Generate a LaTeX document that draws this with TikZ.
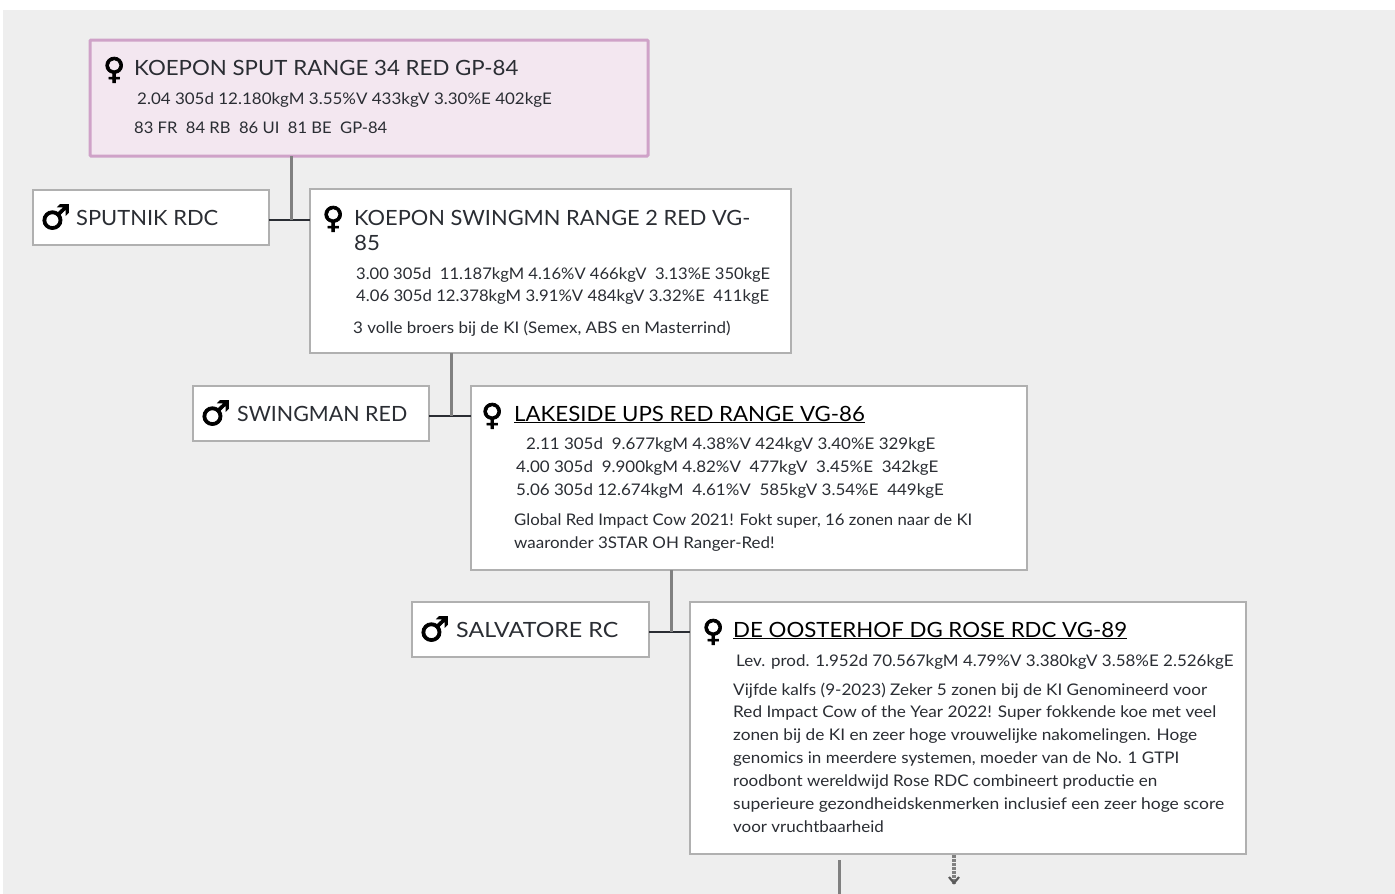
\documentclass[tikz,border=0pt]{standalone}
\usepackage{graphicx}
\usepackage{fontspec}
\setmainfont{Lato}[FakeStretch=1.06]
\newfontfamily\femsym{DejaVu Sans}[FakeBold=2.5]
\newfontfamily\malsym{DejaVu Sans}[FakeBold=2.5]
\definecolor{pagebg}{HTML}{EEEEEE}
\definecolor{boxline}{HTML}{B0B0B0}
\definecolor{pinkfill}{HTML}{F3E7F0}
\definecolor{pinkline}{HTML}{CFA2C8}
\definecolor{ink}{HTML}{2A2D33}
\definecolor{stem}{HTML}{808080}
\tikzset{
 x=1pt,y=-1pt,
 cardbox/.style={draw=boxline,line width=1.6pt,fill=white,anchor=north west,inner sep=0pt,outer sep=0pt},
 topbox/.style={cardbox,draw=pinkline,line width=3pt,rounded corners=1pt,fill=pinkfill},
 title/.style={anchor=base west,inner sep=0pt,text=ink,font=\fontsize{21}{24}\selectfont},
 linktitle/.style={title,text=black},
 small/.style={anchor=base west,inner sep=0pt,text=ink,font=\fontsize{16}{18}\selectfont},
 femsign/.style={anchor=base west,inner sep=0pt,text=black,font=\femsym\fontsize{30}{30}\selectfont},
 malsign/.style={anchor=base west,inner sep=0pt,text=black,font=\malsym\fontsize{34}{36}\selectfont},
 stemline/.style={draw=stem,line width=3pt},
 barline/.style={draw=ink,line width=1.6pt},
}
\newcommand{\lnk}[1]{\underline{#1}}
\newcommand{\fitw}[2]{\resizebox{#1pt}{\height}{#2}}
\begin{document}
\begin{tikzpicture}
\useasboundingbox (0,0) rectangle (1395,894);
\fill[white] (0,0) rectangle (1395,894);
\fill[pagebg] (3,10) rectangle (1395,894);
% boxes
\node[topbox,minimum width=558pt,minimum height=116pt] (b1) at (90,40) {};
\node[cardbox,minimum width=236pt,minimum height=55pt] (s2) at (33,190) {};
\node[cardbox,minimum width=481pt,minimum height=164pt] (b2) at (310,189) {};
\node[cardbox,minimum width=236pt,minimum height=55pt] (s3) at (193,386) {};
\node[cardbox,minimum width=556pt,minimum height=184pt] (b3) at (471,386) {};
\node[cardbox,minimum width=237pt,minimum height=55pt] (s4) at (412,602) {};
\node[cardbox,minimum width=556pt,minimum height=252pt] (b4) at (690,602) {};
% connectors
\coordinate (j2) at (291,220);
\coordinate (j3) at (451,416);
\coordinate (j4) at (671,632);
\coordinate (t5) at (839,860);
\coordinate (e5) at (839,894);
\coordinate (t6) at (954,855);
\coordinate (e6) at (954,884);
\draw[barline] (s2.east |- j2) -- (b2.west |- j2);
\draw[stemline] (b1.south -| j2) -- (j2);
\draw[barline] (s3.east |- j3) -- (b3.west |- j3);
\draw[stemline] (b2.south -| j3) -- (j3);
\draw[barline] (s4.east |- j4) -- (b4.west |- j4);
\draw[stemline] (b3.south -| j4) -- (j4);
\draw[stemline] (t5) -- (e5);
\draw[draw=stem,line width=3.4pt,dash pattern=on 2.5pt off 1.5pt] (t6) -- (e6);
\draw[draw=stem!70!black,line width=2.2pt] (949,877) -- (954,883) -- (959,877);
% box 1
\node[femsign] (g1) at (103,79) {♀};
\node[title] (t1) at (134,75) {KOEPON SPUT RANGE 34 RED GP-84};
\node[small] (t1a) at (137,104) {2.04 305d 12.180kgM 3.55\%V 433kgV 3.30\%E 402kgE};
\node[small] (t1b) at (134,133) {\fitw{253}{83 FR\ \ 84 RB\ \ 86 UI\ \ 81 BE\ \ GP-84}};
% sire 2
\node[malsign] (g2) at (40,229) {♂};
\node[title] (t2) at (76,225) {\fitw{142}{SPUTNIK RDC}};
% box 2
\node[femsign] (g3) at (322,228) {♀};
\node[title] (t3) at (354,225) {\fitw{396}{KOEPON SWINGMN RANGE 2 RED VG-}};
\node[title] (t3b) at (354,250) {85};
\node[small] (t3c) at (356,279) {\fitw{414}{3.00 305d\ \ 11.187kgM 4.16\%V 466kgV\ \ 3.13\%E\ 350kgE}};
\node[small] (t3d) at (356,301) {\fitw{413}{4.06 305d 12.378kgM 3.91\%V 484kgV 3.32\%E\ \ 411kgE}};
\node[small] (t3e) at (353,333) {3 volle broers bij de KI (Semex, ABS en Masterrind)};
% sire 3
\node[malsign] (g4) at (200,425) {♂};
\node[title] (t4) at (237,421) {\fitw{170}{SWINGMAN RED}};
% box 3
\node[femsign] (g5) at (481,425) {♀};
\node[linktitle] (t5n) at (514,421) {\lnk{LAKESIDE UPS RED RANGE VG-86}};
\node[small] (t5a) at (526,449) {2.11 305d\ \ 9.677kgM 4.38\%V 424kgV 3.40\%E 329kgE};
\node[small] (t5b) at (516,472) {4.00 305d\ \ 9.900kgM 4.82\%V\ \ 477kgV\ \ 3.45\%E\ \ 342kgE};
\node[small] (t5c) at (516,495) {5.06 305d 12.674kgM\ \ 4.61\%V\ \ 585kgV 3.54\%E\ \ 449kgE};
\node[small] (t5d) at (514,525) {\fitw{458}{Global Red Impact Cow 2021! Fokt super, 16 zonen naar de KI}};
\node[small] (t5e) at (514,548) {waaronder 3STAR OH Ranger-Red!};
% sire 4
\node[malsign] (g6) at (419,641) {♂};
\node[title] (t6n) at (456,637) {\fitw{162}{SALVATORE RC}};
% box 4
\node[femsign] (g7) at (702,641) {♀};
\node[linktitle] (t7) at (733,637) {\lnk{DE OOSTERHOF DG ROSE RDC VG-89}};
\node[small] (t7a) at (736,666) {Lev. prod. 1.952d 70.567kgM 4.79\%V 3.380kgV 3.58\%E 2.526kgE};
\node[small] (l1) at (733,695) {\fitw{474}{Vijfde kalfs (9-2023) Zeker 5 zonen bij de KI Genomineerd voor}};
\node[small] (l2) at (733,717) {\fitw{483}{Red Impact Cow of the Year 2022! Super fokkende koe met veel}};
\node[small] (l3) at (733,740) {\fitw{464}{zonen bij de KI en zeer hoge vrouwelijke nakomelingen. Hoge}};
\node[small] (l4) at (733,763) {\fitw{446}{genomics in meerdere systemen, moeder van de No. 1 GTPI}};
\node[small] (l5) at (733,786) {\fitw{424}{roodbont wereldwijd Rose RDC combineert productie en}};
\node[small] (l6) at (733,809) {\fitw{491}{superieure gezondheidskenmerken inclusief een zeer hoge score}};
\node[small] (l7) at (733,832) {voor vruchtbaarheid};
\end{tikzpicture}
\end{document}
